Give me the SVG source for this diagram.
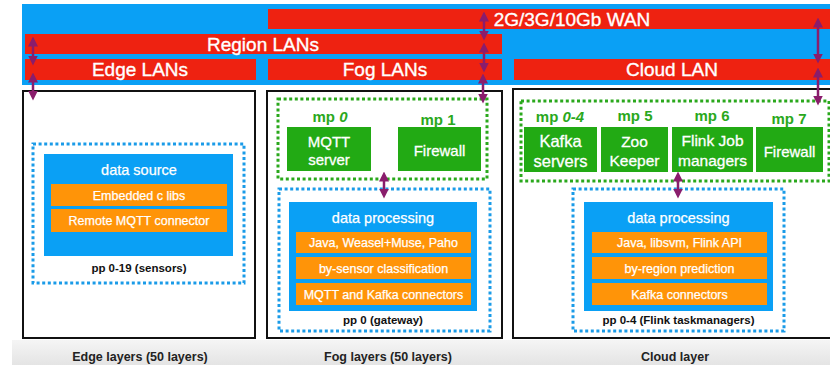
<svg xmlns="http://www.w3.org/2000/svg" width="830" height="365" viewBox="0 0 830 365">
<defs>
<linearGradient id="floor" x1="0" y1="0" x2="0" y2="1">
<stop offset="0" stop-color="#f5f5f5"/>
<stop offset="1" stop-color="#e4e4e4"/>
</linearGradient>
<marker id="ah" viewBox="0 0 10 10" refX="6.5" refY="5" markerWidth="10" markerHeight="10" markerUnits="userSpaceOnUse" orient="auto-start-reverse">
<path d="M0,0 L10,5 L0,10 z" fill="#8a1d6c"/>
</marker>
</defs>
<style>
.t{font-family:"Liberation Sans",Arial,sans-serif;text-anchor:middle}
.bar{fill:#ee2211}
.bart{font-size:19px;fill:#fff;stroke:#fff;stroke-width:0.35}
.layer{fill:#fff;stroke:#111;stroke-width:2}
.gdot{fill:none;stroke:#2aa81c;stroke-width:3;stroke-dasharray:3 2.6}
.bdot{fill:none;stroke:#1a9be8;stroke-width:3;stroke-dasharray:3 2.6}
.gbox{fill:#22aa14}
.gt{font-size:15px;fill:#fff;stroke:#fff;stroke-width:0.3}
.mp{font-size:15px;font-weight:bold;fill:#2aa81c}
.blue{fill:#0aa0f5}
.org{fill:#ff9408}
.ot{font-size:12.5px;fill:#fff;stroke:#fff;stroke-width:0.25}
.ht{font-size:14.5px;fill:#fff;stroke:#fff;stroke-width:0.25}
.pp{font-size:11.5px;font-weight:bold;fill:#111}
.cap{font-size:12.5px;font-weight:bold;fill:#222}
.arr{stroke:#8a1d6c;stroke-width:2.5;fill:none;marker-start:url(#ah);marker-end:url(#ah)}
</style>
<rect x="0" y="0" width="830" height="365" fill="#fff"/>
<rect x="12" y="340" width="818" height="25" fill="url(#floor)"/>

<g id="network">
<rect x="22" y="4" width="808" height="81" class="blue"/>
<rect x="268" y="9" width="562" height="20" class="bar"/>
<text x="572" y="26" class="t bart">2G/3G/10Gb WAN</text>
<rect x="25" y="34" width="477" height="20" class="bar"/>
<text x="263" y="51" class="t bart">Region LANs</text>
<rect x="25" y="59" width="231" height="21" class="bar"/>
<text x="140" y="76" class="t bart">Edge LANs</text>
<rect x="268" y="59" width="234" height="21" class="bar"/>
<text x="385" y="76" class="t bart">Fog LANs</text>
<rect x="514" y="59" width="316" height="21" class="bar"/>
<text x="672" y="76" class="t bart">Cloud LAN</text>
</g>

<g id="edge-layer">
<rect x="23" y="91" width="232" height="247" class="layer"/>
<rect x="33" y="144" width="211" height="139" class="bdot"/>
<rect x="44" y="154" width="189" height="102" class="blue"/>
<text x="139" y="175" class="t ht">data source</text>
<rect x="51" y="184" width="176" height="22" class="org"/>
<text x="139" y="199.5" class="t ot">Embedded c libs</text>
<rect x="51" y="209" width="176" height="23" class="org"/>
<text x="139" y="225" class="t ot">Remote MQTT connector</text>
<text x="139" y="272" class="t pp">pp 0-19 (sensors)</text>
<text x="140" y="361" class="t cap">Edge layers (50 layers)</text>
</g>

<g id="fog-layer">
<rect x="267" y="91" width="235" height="247" class="layer"/>
<rect x="278" y="99" width="209" height="80" class="gdot"/>
<text x="330" y="122" class="t mp">mp <tspan font-style="italic">0</tspan></text>
<text x="438" y="125" class="t mp">mp 1</text>
<rect x="287" y="127" width="84" height="44" class="gbox"/>
<text x="329" y="147" class="t gt">MQTT</text>
<text x="329" y="165" class="t gt">server</text>
<rect x="398" y="127" width="83" height="44" class="gbox"/>
<text x="439.5" y="156" class="t gt">Firewall</text>
<rect x="279" y="189" width="211" height="142" class="bdot"/>
<rect x="289" y="202" width="188" height="109" class="blue"/>
<text x="383" y="223" class="t ht">data processing</text>
<rect x="296" y="232" width="175" height="21" class="org"/>
<text x="383.5" y="247" class="t ot">Java, Weasel+Muse, Paho</text>
<rect x="296" y="257" width="175" height="22" class="org"/>
<text x="383.5" y="272.5" class="t ot">by-sensor classification</text>
<rect x="296" y="283" width="175" height="22" class="org"/>
<text x="383.5" y="298.5" class="t ot">MQTT and Kafka connectors</text>
<text x="383" y="324" class="t pp">pp 0 (gateway)</text>
<text x="388" y="361" class="t cap">Fog layers (50 layers)</text>
</g>

<g id="cloud-layer">
<rect x="513" y="89" width="330" height="249" class="layer"/>
<rect x="521" y="101" width="308" height="80" class="gdot"/>
<text x="560" y="122" class="t mp">mp <tspan font-style="italic">0-4</tspan></text>
<text x="635" y="121" class="t mp">mp 5</text>
<text x="712" y="121" class="t mp">mp 6</text>
<text x="789" y="124" class="t mp">mp 7</text>
<rect x="524" y="127" width="73" height="45" class="gbox"/>
<text x="560.5" y="147" class="t gt" style="font-size:16.5px">Kafka</text>
<text x="560.5" y="167" class="t gt" style="font-size:16.5px">servers</text>
<rect x="601" y="127" width="67" height="45" class="gbox"/>
<text x="634.5" y="147" class="t gt" style="font-size:15.5px">Zoo</text>
<text x="634.5" y="166" class="t gt" style="font-size:15.5px">Keeper</text>
<rect x="672" y="127" width="81" height="45" class="gbox"/>
<text x="712.5" y="146" class="t gt" style="font-size:15.5px">Flink Job</text>
<text x="712.5" y="166" class="t gt" style="font-size:15.5px">managers</text>
<rect x="756" y="127" width="67" height="45" class="gbox"/>
<text x="789.5" y="157" class="t gt">Firewall</text>
<rect x="573" y="189" width="211" height="142" class="bdot"/>
<rect x="584" y="202" width="189" height="109" class="blue"/>
<text x="678.5" y="223" class="t ht">data processing</text>
<rect x="592" y="232" width="175" height="21" class="org"/>
<text x="679.5" y="247" class="t ot">Java, libsvm, Flink API</text>
<rect x="592" y="257" width="175" height="22" class="org"/>
<text x="679.5" y="272.5" class="t ot">by-region prediction</text>
<rect x="592" y="283" width="175" height="22" class="org"/>
<text x="679.5" y="298.5" class="t ot">Kafka connectors</text>
<text x="678.5" y="324" class="t pp">pp 0-4 (Flink taskmanagers)</text>
<text x="675" y="361" class="t cap">Cloud layer</text>
</g>

<g id="connectors">
<line x1="33" y1="40" x2="33" y2="62" class="arr"/>
<line x1="33" y1="76" x2="33" y2="97" class="arr"/>
<line x1="484" y1="15" x2="484" y2="37" class="arr"/>
<line x1="484" y1="46" x2="484" y2="69" class="arr"/>
<line x1="483" y1="77" x2="483" y2="100" class="arr"/>
<line x1="818" y1="21" x2="818" y2="60" class="arr"/>
<line x1="818" y1="71" x2="818" y2="102" class="arr"/>
<line x1="384" y1="175" x2="384" y2="195" class="arr"/>
<line x1="678" y1="175" x2="678" y2="195" class="arr"/>
</g>
</svg>
